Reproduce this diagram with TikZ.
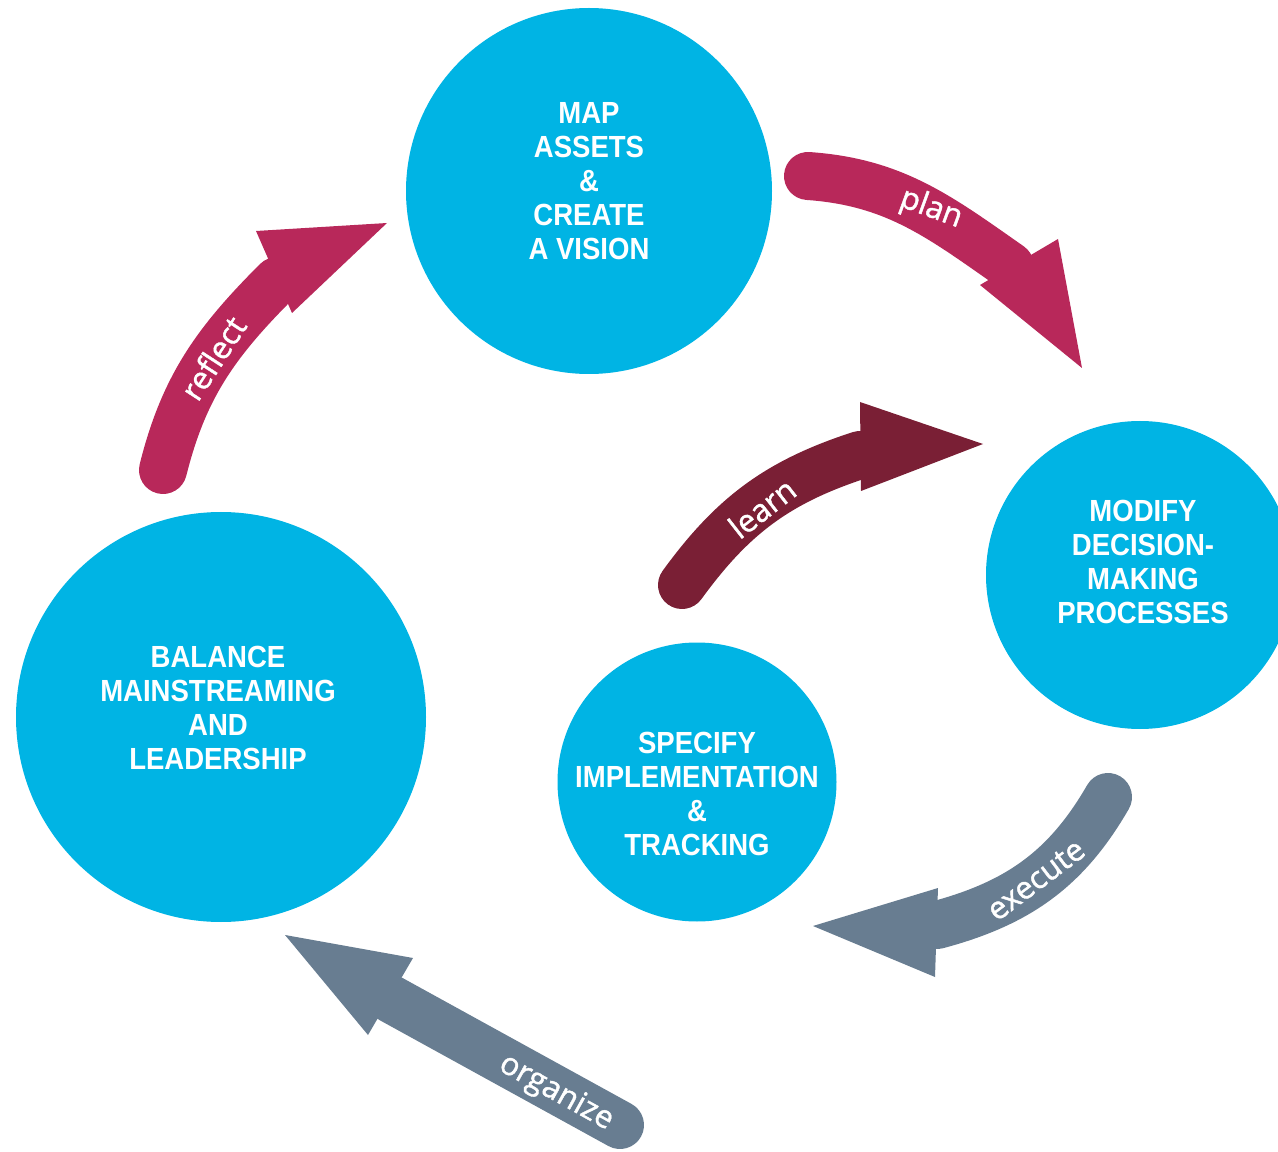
\documentclass[tikz,border=0pt]{standalone}
\usepackage{fontspec}
\setmainfont{Open Sans}
\newfontfamily\lblfont[FakeBold=1.3]{Open Sans}
\newfontfamily\circfont[FakeStretch=0.9]{Liberation Sans}
\definecolor{disccol}{HTML}{00B4E4}
\definecolor{magarrow}{HTML}{B8285A}
\definecolor{winearrow}{HTML}{7A1F35}
\definecolor{slatearrow}{HTML}{687D91}
\begin{document}
\begin{tikzpicture}[
                    disc/.style={circle, fill=disccol, inner sep=0pt},
                    disctext/.style={align=center, text=white, font=\circfont\bfseries\fontsize{8.7}{9.7}\selectfont},
                    shaft/.style={line width=0.48cm, line cap=round},
                    steplabel/.style={text=white, inner sep=0pt, font=\lblfont\fontsize{8.9}{10}\selectfont}
                ]
                \useasboundingbox (0,0) rectangle (12.78,-11.52);

                % Blocks
                \node [disc, minimum size=3.66cm] (map) at (5.89,-1.91) {};
                \node [disc, minimum size=3.08cm] (modify) at (11.40,-5.75) {};
                \node [disc, minimum size=4.10cm] (balance) at (2.21,-7.17) {};
                \node [disc, minimum size=2.79cm] (specify) at (6.97,-7.82) {};

                \node [disctext] (maptxt) at (5.89,-1.81) {MAP\\ASSETS\\\&\\CREATE\\A VISION};
                \node [disctext] (modifytxt) at (11.43,-5.62) {MODIFY\\DECISION-\\MAKING\\PROCESSES};
                \node [disctext] (balancetxt) at (2.18,-7.08) {BALANCE\\MAINSTREAMING\\AND\\LEADERSHIP};
                \node [disctext] (specifytxt) at (6.97,-7.94) {SPECIFY\\IMPLEMENTATION\\\&\\TRACKING};

                % Arrow ends
                \coordinate (refl0) at (1.63,-4.70);
                \coordinate (refl1) at (2.77,-2.81);
                \coordinate (plan0) at (8.08,-1.76);
                \coordinate (plan1) at (10.10,-2.66);
                \coordinate (learn0) at (6.82,-5.85);
                \coordinate (learn1) at (8.60,-4.55);
                \coordinate (exec0) at (11.08,-7.97);
                \coordinate (exec1) at (9.37,-9.25);
                \coordinate (org0) at (6.20,-11.25);
                \coordinate (org1) at (3.91,-9.99);

                % Connections
                \draw [shaft, magarrow] (refl0) to[out=76, in=225] (refl1);
                \fill [magarrow] (2.56,-2.31) -- (3.87,-2.23) -- (2.92,-3.13) -- cycle;
                \draw [shaft, magarrow] (plan0) to[out=-4, in=145] (plan1);
                \fill [magarrow] (9.80,-2.85) -- (10.58,-2.39) -- (10.82,-3.68) -- cycle;
                \draw [shaft, winearrow] (learn0) to[out=54, in=198] (learn1);
                \fill [winearrow] (8.60,-4.02) -- (9.83,-4.44) -- (8.61,-4.91) -- cycle;
                \draw [shaft, slatearrow] (exec0) to[out=240, in=15] (exec1);
                \fill [slatearrow] (9.38,-8.88) -- (8.13,-9.26) -- (9.35,-9.77) -- cycle;
                \draw [shaft, slatearrow] (org0) -- (org1);
                \fill [slatearrow] (4.13,-9.58) -- (2.85,-9.35) -- (3.68,-10.35) -- cycle;

                % Labels
                \node [steplabel, rotate=57] (reflectlbl) at (2.13,-3.58) {reflect};
                \node [steplabel, rotate=-20] (planlbl) at (9.31,-2.09) {plan};
                \node [steplabel, rotate=38] (learnlbl) at (7.62,-5.08) {learn};
                \node [steplabel, rotate=37] (execlbl) at (10.36,-8.80) {execute};
                \node [steplabel, rotate=-29] (orglbl) at (5.56,-10.93) {organize};
            \end{tikzpicture}
\end{document}
